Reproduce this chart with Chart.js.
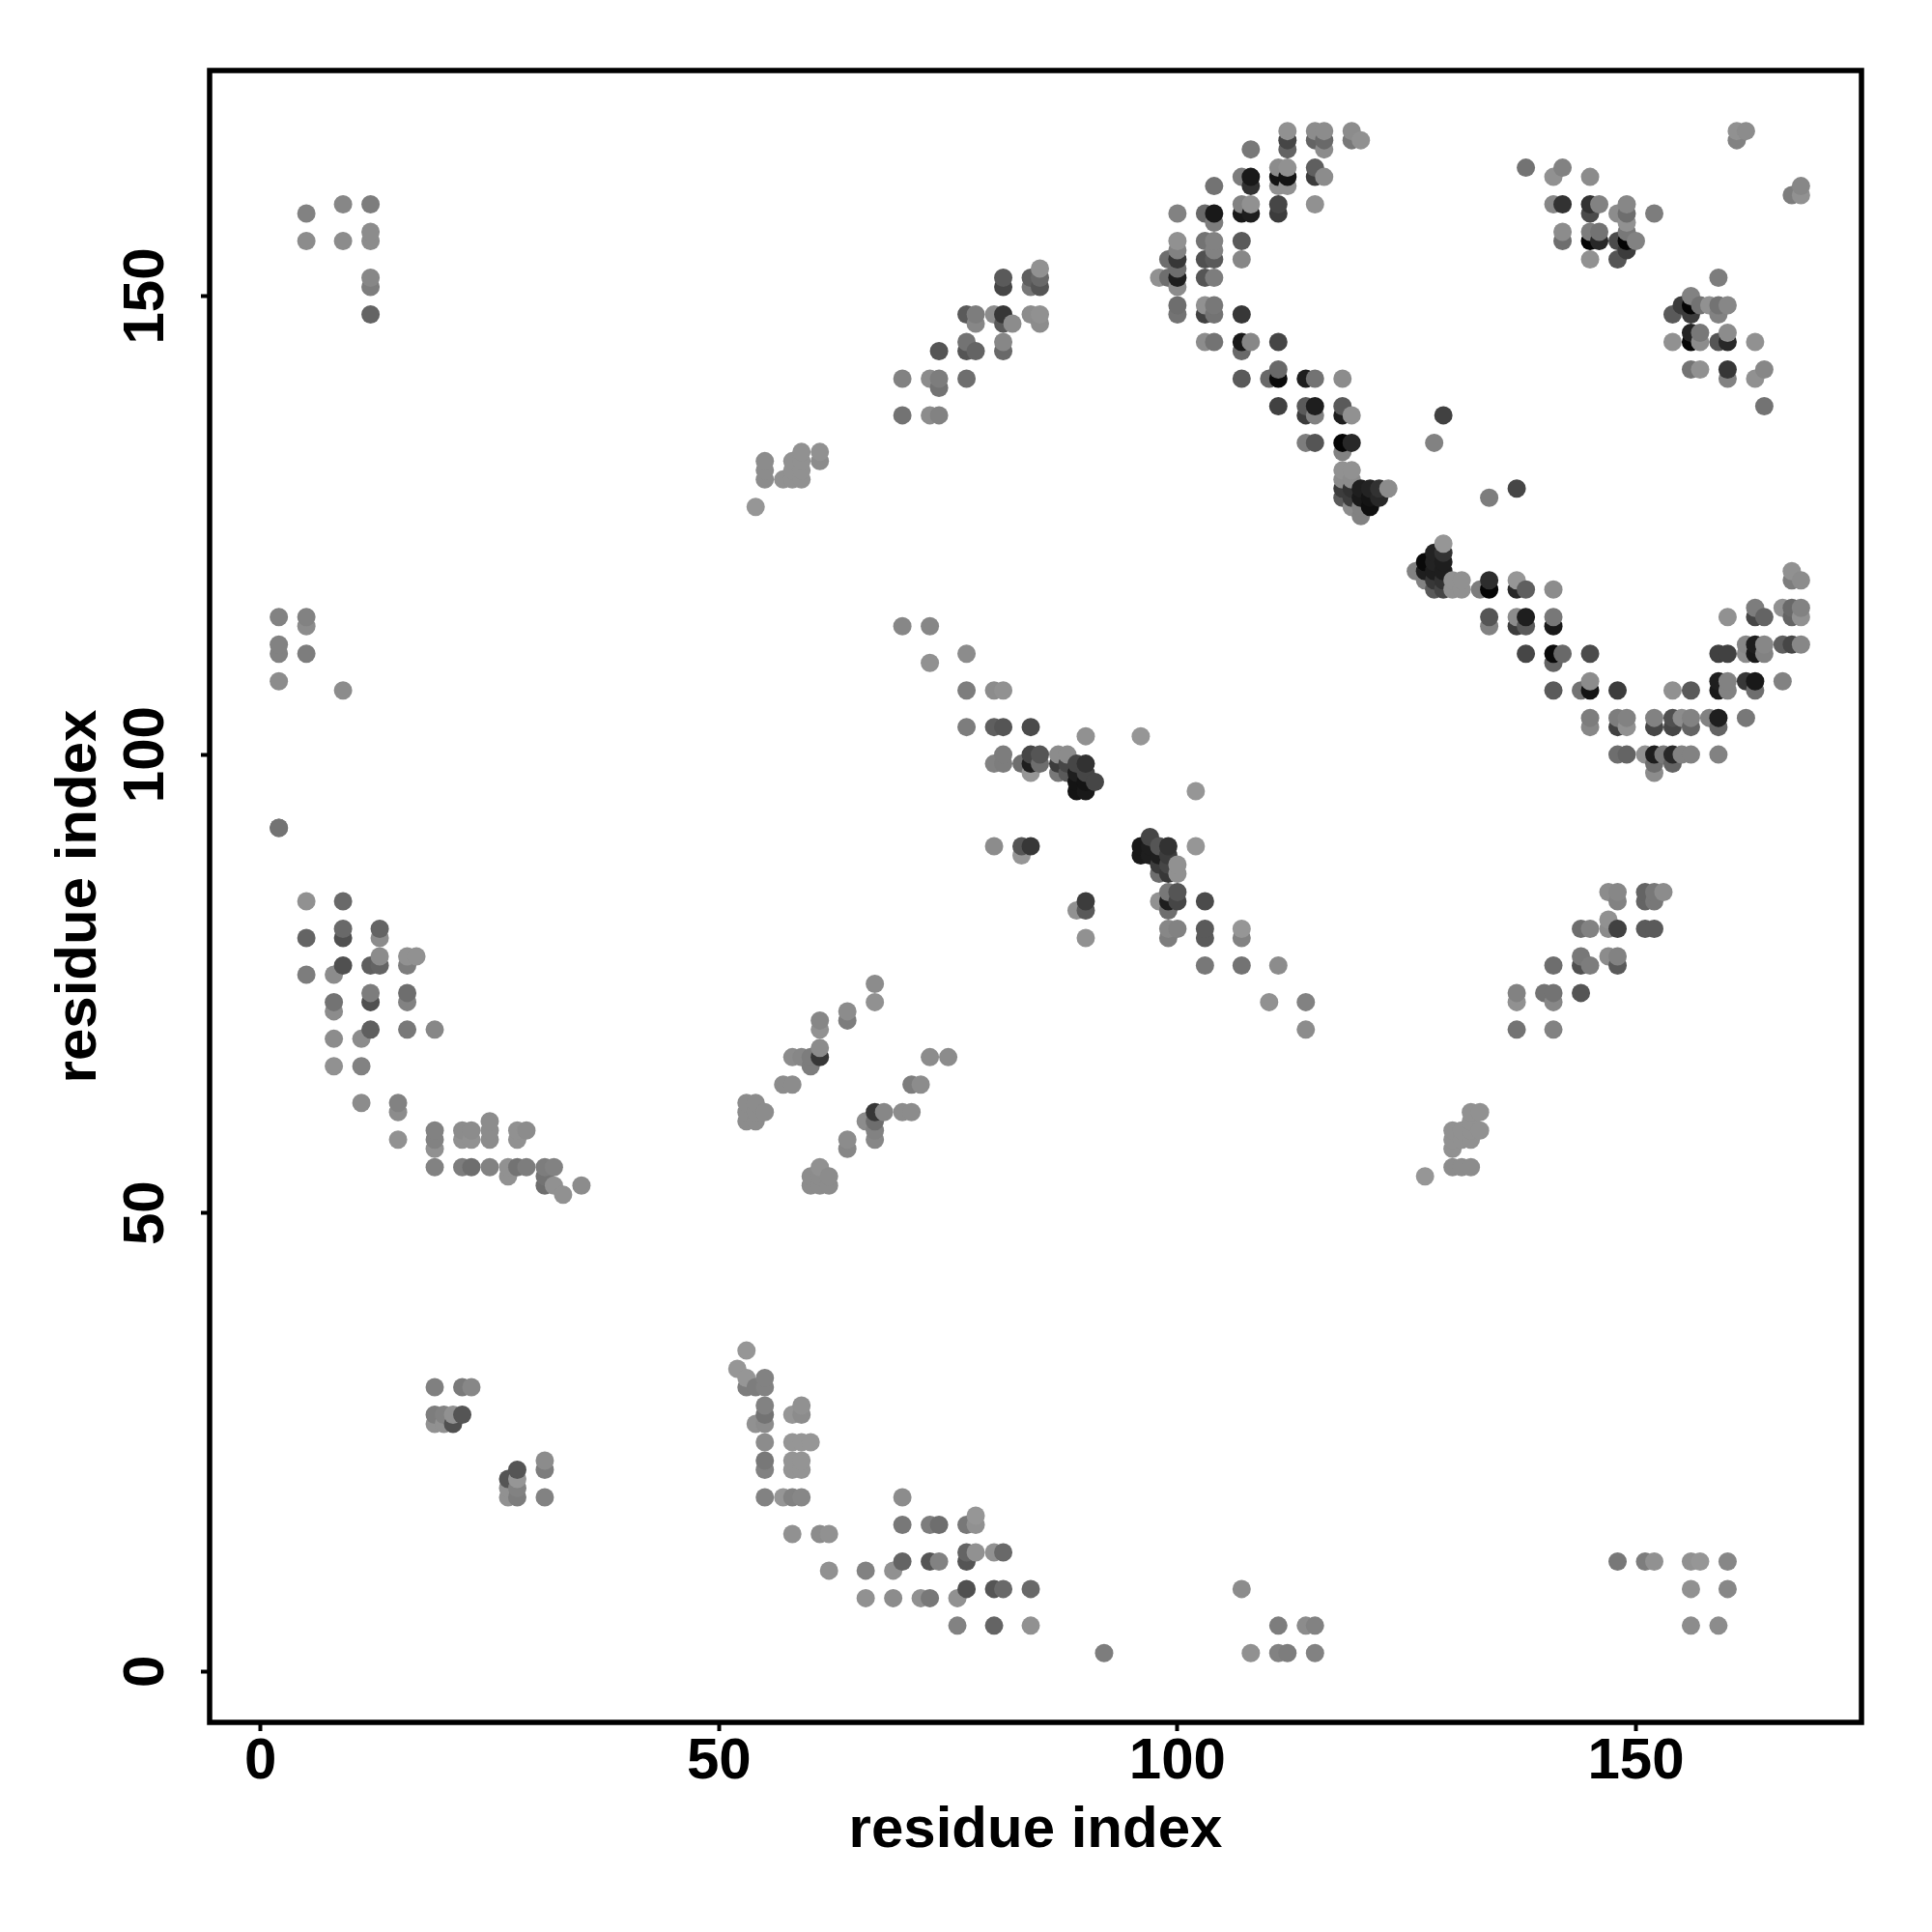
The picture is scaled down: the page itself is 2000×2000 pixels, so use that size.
<!DOCTYPE html>
<html>
<head>
<meta charset="utf-8">
<title>residue contacts</title>
<script src="https://cdn.jsdelivr.net/npm/chart.js@4/dist/chart.umd.min.js"></script>
<style>
  html, body { margin: 0; padding: 0; background: #fff; }
  canvas { display: block; }
</style>
</head>
<body>
<canvas id="contactMap" width="2000" height="2000"></canvas>
<script>
const axisTitle = 'residue index';

// one contact per column across the three arrays, each line is ten contacts
const residueI = [
  19,22,23,19,20,21,22,19,20,21,
  27,28,27,28,27,28,28,31,31,31,
  53,52,53,55,53,54,55,55,55,54,
  55,59,58,59,55,58,59,60,55,55,
  58,59,58,59,55,57,58,59,58,61,
  62,62,66,69,70,66,69,72,73,76,
  70,70,73,74,77,78,78,73,74,77,
  77,78,80,81,77,80,81,84,76,80,
  84,92,107,111,114,115,108,111,112,115,
  148,151,152,156,157,160,156,160,156,159,
  127,130,131,132,130,130,130,131,131,132,
  132,133,132,132,133,110,114,114,35,2,
  137,137,137,140,141,141,141,141,144,145,
  148,144,144,144,145,147,148,147,147,148,
  148,148,147,151,152,151,152,151,152,153,
  5,5,9,9,12,12,12,12,12,12,
  2,2,2,2,5,5,5,9,2,73,
  5,9,5,9,9,13,13,5,8,9,
  12,13,13,16,16,17,8,8,12,12,
  16,16,8,11,12,16,19,8,11,11,
  15,15,15,19,19,19,19,22,23,22,
  23,25,25,25,28,29,28,22,23,25,
  27,27,28,29,31,32,31,31,32,33,
  67,67,64,64,61,61,61,61,58,59,
  60,60,57,58,53,54,53,54,55,53,
  54,67,68,70,71,66,67,67,67,64,
  64,61,60,61,62,60,61,62,71,72,
  54,55,55,55,57,58,59,58,59,58,
  59,59,61,61,70,73,74,70,75,73,
  74,74,77,74,77,78,77,81,81,77,
  78,78,80,81,81,82,81,81,84,85,
  85,84,84,85,85,85,70,73,73,77,
  77,80,81,77,80,81,84,90,96,81,
  80,81,83,84,84,85,85,84,87,88,
  87,87,88,88,89,90,89,90,89,90,
  91,89,90,102,80,83,84,83,90,90,
  89,90,96,96,97,97,97,98,98,99,
  98,99,99,100,100,98,99,102,99,100,
  99,100,98,99,103,99,100,99,103,103,
  107,107,103,107,111,112,112,112,115,116,
  115,116,116,119,119,120,108,107,108,108,
  111,112,111,112,111,112,115,116,115,104,
  100,103,104,104,107,108,107,108,111,111,
  115,100,100,100,99,100,100,99,98,100,
  103,104,104,103,104,103,104,107,107,100,
  100,103,104,103,104,107,103,104,107,108,
  107,111,107,110,111,111,114,115,118,111,
  114,115,114,115,118,118,119,129,114,115,
  118,119,118,128,134,137,118,119,118,119,
  118,119,118,119,120,121,122,123,120,121,
  122,119,120,121,120,129,128,129,128,129,
  127,126,127,128,129,127,128,129,130,131,
  128,129,130,131,133,134,134,137,137,138,
  141,134,134,137,138,137,138,141,141,138,
  141,142,141,145,141,144,145,145,148,145,
  145,148,149,148,149,152,152,154,155,156,
  154,156,158,159,159,162,148,149,151,152,
  153,154,155,156,159,152,154,152,154,156,
  159,160,159,160,162,163,163,166,159,160,
  162,163,164,162,163,164,166,167,168,160,
  163,163,164,166,167,168,167,168,167,167,
  168,138,142,141,145,141,142,145,146,145,
  148,149,149,149,152,142,142,145,146,145,
  146,148,149,149,150,149,148,145,161,162,
  161,167,168,168,159,156,155,156,157,158,
  159,160,154,156,159,156,157,156,157,154,
  160,159,160,163,156,157,160,160,164,163,
  164
];
const residueJ = [
  31,31,31,28,28,28,28,27,27,27,
  19,19,20,20,21,21,22,19,22,23,
  35,33,32,32,31,31,31,29,28,27,
  27,29,28,28,25,25,25,25,23,22,
  23,23,22,22,19,19,19,19,15,15,
  15,11,11,11,12,8,8,8,8,8,
  19,16,16,16,16,16,17,12,12,12,
  13,13,13,13,9,9,9,9,5,5,
  5,2,9,5,5,5,2,2,2,2,
  12,12,12,12,12,12,9,9,5,5,
  54,55,55,55,57,58,59,59,58,58,
  59,59,60,61,61,73,73,70,53,92,
  74,73,70,74,74,73,70,77,77,77,
  77,74,78,81,81,78,78,81,82,81,
  84,85,85,81,81,84,84,85,85,85,
  159,156,160,156,160,157,156,152,151,148,
  115,112,111,108,115,114,111,107,92,67,
  84,84,80,81,80,81,80,76,76,77,
  77,77,78,77,78,78,73,72,74,73,
  74,73,69,69,70,70,70,66,66,62,
  62,61,58,59,58,57,55,59,59,58,
  58,60,59,58,59,59,58,55,55,55,
  55,54,55,55,55,55,54,53,53,52,
  75,73,72,71,71,70,68,67,67,67,
  67,66,64,64,62,62,61,61,61,60,
  60,61,61,61,61,60,60,59,58,58,
  57,55,54,54,54,53,53,53,64,64,
  127,130,131,132,130,130,130,131,131,132,
  132,133,133,132,137,137,137,141,67,141,
  141,140,141,144,144,144,145,144,145,148,
  148,147,148,148,147,147,151,152,148,148,
  147,151,152,151,152,153,114,114,110,111,
  107,107,107,103,103,103,103,102,102,100,
  99,99,99,100,99,100,99,98,100,100,
  99,98,98,99,99,99,98,98,97,97,
  97,96,96,96,90,90,90,89,84,83,
  83,80,90,89,91,90,89,90,89,90,
  88,89,88,88,87,87,87,90,85,85,
  84,84,84,83,84,81,81,80,81,80,
  81,80,77,77,77,168,167,166,168,168,
  167,167,166,168,167,167,166,163,163,162,
  164,164,163,163,162,162,164,163,163,162,
  159,159,159,158,160,160,159,159,160,159,
  160,156,155,154,154,153,152,152,152,151,
  156,156,155,154,154,152,152,156,154,149,
  148,149,149,148,148,148,145,145,145,145,
  144,145,141,141,141,142,141,141,141,138,
  138,138,137,137,138,137,137,137,134,134,
  134,134,133,134,128,129,131,131,130,130,
  129,129,128,128,129,129,129,129,128,128,
  128,127,127,127,126,123,122,122,121,121,
  121,120,120,120,120,119,119,119,119,119,
  118,118,118,118,118,118,119,119,118,118,
  118,115,114,115,115,114,114,115,114,111,
  111,111,110,111,107,107,107,108,107,104,
  103,104,104,103,103,104,103,104,104,104,
  103,103,104,104,103,104,100,100,100,100,
  100,100,100,100,100,99,99,98,107,107,
  108,108,107,107,108,108,107,108,111,111,
  112,112,112,111,111,111,112,112,112,115,
  116,115,115,116,116,116,115,115,120,119,
  119,164,164,163,163,160,160,160,160,159,
  159,160,159,158,159,157,156,157,157,156,
  156,156,157,156,156,155,154,154,168,168,
  167,161,162,161,152,150,149,149,149,149,
  149,149,148,148,148,146,146,145,145,145,
  146,145,145,145,142,142,142,141,142,141,
  138
];
const shade = [
  128,122,135,125,130,145,85,145,145,80,
  145,125,145,130,85,150,85,130,125,140,
  150,150,150,130,125,125,130,130,115,145,
  140,145,150,140,140,150,150,150,120,130,
  148,148,148,148,130,150,130,135,145,140,
  145,145,130,145,100,145,140,145,120,145,
  140,120,125,110,120,145,150,85,130,85,
  100,145,145,105,80,85,105,105,130,100,
  145,125,140,125,140,130,145,130,125,130,
  120,125,145,145,150,135,145,135,140,140,
  150,140,140,140,145,145,145,145,145,145,
  145,145,145,145,145,145,130,140,140,115,
  130,145,115,115,115,135,130,110,80,125,
  90,85,120,110,130,140,130,140,145,65,
  130,135,140,90,90,100,120,100,120,140,
  130,140,135,140,125,140,140,135,125,100,
  130,130,130,140,130,140,125,140,115,140,
  145,105,100,105,80,100,140,125,140,80,
  95,100,140,125,145,145,115,140,125,80,
  110,130,140,140,95,120,135,145,130,140,
  130,140,145,130,130,145,130,140,140,145,
  145,140,140,140,145,140,145,125,110,130,
  145,145,115,125,125,130,115,110,145,145,
  140,145,140,125,135,145,140,55,140,135,
  125,125,140,140,140,140,140,140,140,140,
  140,55,135,140,140,140,110,130,135,140,
  135,145,140,140,140,140,140,140,125,140,
  150,140,140,140,145,145,145,145,145,145,
  145,145,145,140,115,140,130,130,140,140,
  125,115,110,85,85,100,115,105,135,90,
  125,135,140,55,90,140,70,90,140,145,
  140,120,95,85,105,145,135,135,145,140,
  125,140,145,125,95,85,75,145,150,125,
  130,125,110,70,30,85,110,150,140,140,
  60,120,90,70,70,50,30,70,20,20,
  70,20,25,150,140,85,55,150,60,90,
  145,145,25,25,70,30,30,85,30,50,
  60,60,70,145,145,110,55,150,120,85,
  30,70,145,110,75,135,130,125,90,90,
  150,130,120,115,140,145,70,100,140,140,
  100,105,140,140,120,145,120,125,25,50,
  140,145,20,20,145,145,95,140,60,115,
  130,105,25,125,130,145,25,30,70,60,
  145,145,130,55,110,110,30,110,145,140,
  115,130,130,80,90,85,125,90,135,110,
  115,145,120,65,115,55,140,115,25,135,
  105,70,90,105,10,105,30,115,140,65,
  90,30,60,130,90,30,145,65,125,85,
  5,40,130,130,125,70,145,145,140,140,
  60,50,90,60,30,35,50,140,25,20,
  40,140,130,15,130,150,35,50,35,30,
  10,130,30,30,30,130,55,50,145,145,
  90,70,145,145,125,5,45,150,40,95,
  140,85,130,140,30,60,90,120,25,70,
  10,105,100,75,90,115,20,140,60,125,
  135,125,130,65,145,130,70,80,140,130,
  70,100,130,30,100,120,110,100,145,30,
  120,40,130,130,130,110,100,140,145,90,
  30,130,25,130,55,25,110,130,65,65,
  135,30,135,140,25,130,95,70,135,145,
  125,70,100,145,105,130,100,145,145,125,
  140,115,130,145,140,135,50,50,130,75,
  140,135,110,145,125,140,110,125,115,5,
  40,75,120,5,130,60,85,145,145,140,
  130,125,135,145,125,130,60,5,115,145,
  115,135,90,60,130,35,120,5,140,145,
  140,85,40,145,115,145,55,130,135,145,
  115
];

// the points overlap, later residues sit on top of earlier ones
const order = residueI.map((_, n) => n).sort((a, b) =>
  residueI[a] - residueI[b] || residueJ[a] - residueJ[b]);

const points = order.map(n => ({ x: residueI[n], y: residueJ[n] }));
const pointColors = order.map(n => `rgb(${shade[n]},${shade[n]},${shade[n]})`);

const plotFrame = {
  id: 'plotFrame',
  afterDraw(chart) {
    const { ctx, chartArea } = chart;
    ctx.save();
    ctx.strokeStyle = '#000';
    ctx.lineWidth = 5.5;
    ctx.strokeRect(chartArea.left, chartArea.top, chartArea.width, chartArea.height);
    ctx.restore();
  }
};

const tickFont = { family: '"Liberation Sans", Arial, sans-serif', size: 60, weight: 'bold' };
const titleFont = { family: '"Liberation Sans", Arial, sans-serif', size: 60, weight: 'bold' };

new Chart(document.getElementById('contactMap').getContext('2d'), {
  type: 'scatter',
  data: {
    datasets: [{
      data: points,
      pointRadius: 9.5,
      pointBorderWidth: 0,
      pointBackgroundColor: pointColors
    }]
  },
  plugins: [plotFrame],
  options: {
    responsive: false,
    animation: false,
    events: [],
    layout: { padding: { top: 73, right: 73, left: 0, bottom: 0 } },
    plugins: { legend: { display: false }, tooltip: { enabled: false } },
    scales: {
      x: {
        type: 'linear',
        min: -5.55,
        max: 174.6,
        afterFit: scale => { scale.height = 217; },
        border: { display: false },
        grid: { drawOnChartArea: false, tickLength: 9, tickWidth: 4, tickColor: '#000' },
        ticks: { stepSize: 50, includeBounds: false, color: '#000', font: tickFont, padding: -4, maxRotation: 0 },
        title: { display: true, text: axisTitle, color: '#000', font: titleFont, padding: { top: 0, bottom: 69 } }
      },
      y: {
        type: 'linear',
        min: -5.55,
        max: 174.6,
        afterFit: scale => { scale.width = 217; },
        border: { display: false },
        grid: { drawOnChartArea: false, tickLength: 9, tickWidth: 4, tickColor: '#000' },
        ticks: { stepSize: 50, includeBounds: false, color: '#000', font: tickFont, padding: 5, minRotation: 90, maxRotation: 90, crossAlign: 'center' },
        title: { display: true, text: axisTitle, color: '#000', font: titleFont, padding: { top: 46, bottom: 0 } }
      }
    }
  }
});
</script>
</body>
</html>
